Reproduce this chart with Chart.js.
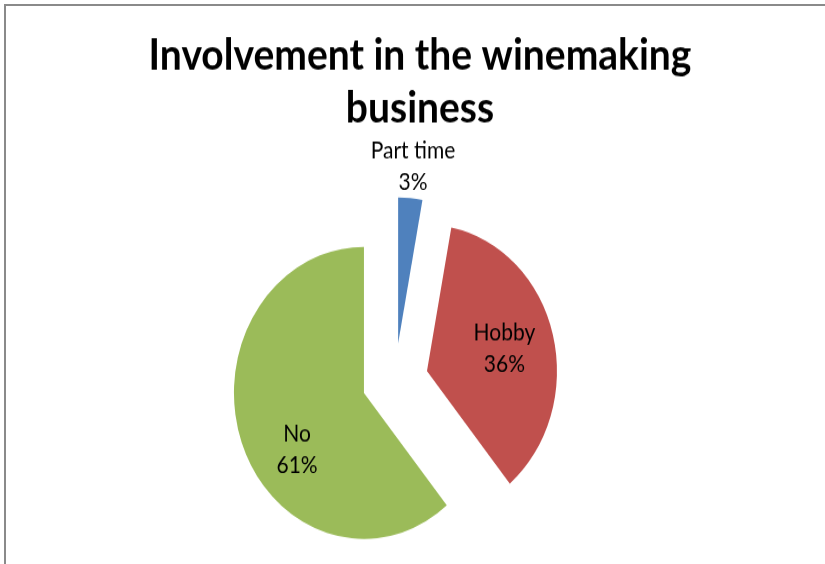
<!DOCTYPE html>
<html>
<head>
<meta charset="utf-8">
<script src="https://cdn.jsdelivr.net/npm/chart.js@4.4.0/dist/chart.umd.min.js"></script>
<style>
  html, body { margin: 0; padding: 0; background: #fff; overflow: hidden; }
  #wrap { position: absolute; left: 0; top: 0; width: 825px; height: 502px; transform: scaleY(1.1235); transform-origin: 0 0; }
  #frame { position: absolute; left: 4px; top: 4px; width: 830px; height: 570px; border-left: 2px solid #8a8a8a; border-top: 2px solid #8a8a8a; pointer-events: none; }
</style>
</head>
<body>
<div id="wrap"><canvas id="chart" width="825" height="502"></canvas></div>
<div id="frame"></div>
<script>
const categories = ['Part time', 'Hobby', 'No'];
const shares = [3, 36, 61];
const sliceColors = ['#4F81BD', '#C0504D', '#9BBB59'];
const titleLines = ['Involvement in the winemaking', 'business'];

const pieRadius = 130;
const explode = 33;
// label placement: distance from slice tip and a small angle nudge (deg)
const labelDist = [158, 80, 84];
const labelNudge = [0, 0, -17.4];

const chartTitle = {
  id: 'chartTitle',
  afterDraw(chart) {
    const ctx = chart.ctx;
    ctx.save();
    ctx.font = 'bold 39px Lato';
    ctx.fillStyle = '#000';
    ctx.textAlign = 'center';
    ctx.textBaseline = 'alphabetic';
    titleLines.forEach((t, i) => ctx.fillText(t, 420, 62 + i * 47));
    ctx.restore();
  }
};

// pull every slice out from the centre along its middle angle
// (chart.js's own offset option also shrinks/grows slices)
const explodeSlices = {
  id: 'explodeSlices',
  afterDatasetsUpdate(chart) {
    chart.getDatasetMeta(0).data.forEach(arc => {
      const mid = (arc.startAngle + arc.endAngle) / 2;
      arc.x += Math.cos(mid) * explode;
      arc.y += Math.sin(mid) * explode;
    });
  }
};

const sliceLabels = {
  id: 'sliceLabels',
  afterDatasetsDraw(chart) {
    const ctx = chart.ctx;
    const meta = chart.getDatasetMeta(0);
    ctx.save();
    ctx.font = '21px Lato';
    ctx.fillStyle = '#000';
    ctx.textAlign = 'center';
    ctx.textBaseline = 'middle';
    meta.data.forEach((arc, i) => {
      const a = (arc.startAngle + arc.endAngle) / 2 + labelNudge[i] * Math.PI / 180;
      const x = arc.x + Math.cos(a) * labelDist[i];
      const y = arc.y + Math.sin(a) * labelDist[i];
      const lines = [categories[i], shares[i] + '%'];
      lines.forEach((t, j) => ctx.fillText(t, x, y + (j - 0.5) * 28));
    });
    ctx.restore();
  }
};

new Chart(document.getElementById('chart'), {
  type: 'pie',
  data: {
    labels: categories,
    datasets: [{
      data: shares,
      backgroundColor: sliceColors,
      borderWidth: 0,
      radius: pieRadius,
      clip: false
    }]
  },
  options: {
    responsive: false,
    animation: false,
    layout: { padding: { top: 175, left: 0, right: 35, bottom: 0 } },
    plugins: {
      legend: { display: false },
      tooltip: { enabled: false }
    }
  },
  plugins: [chartTitle, explodeSlices, sliceLabels]
});
</script>
</body>
</html>
